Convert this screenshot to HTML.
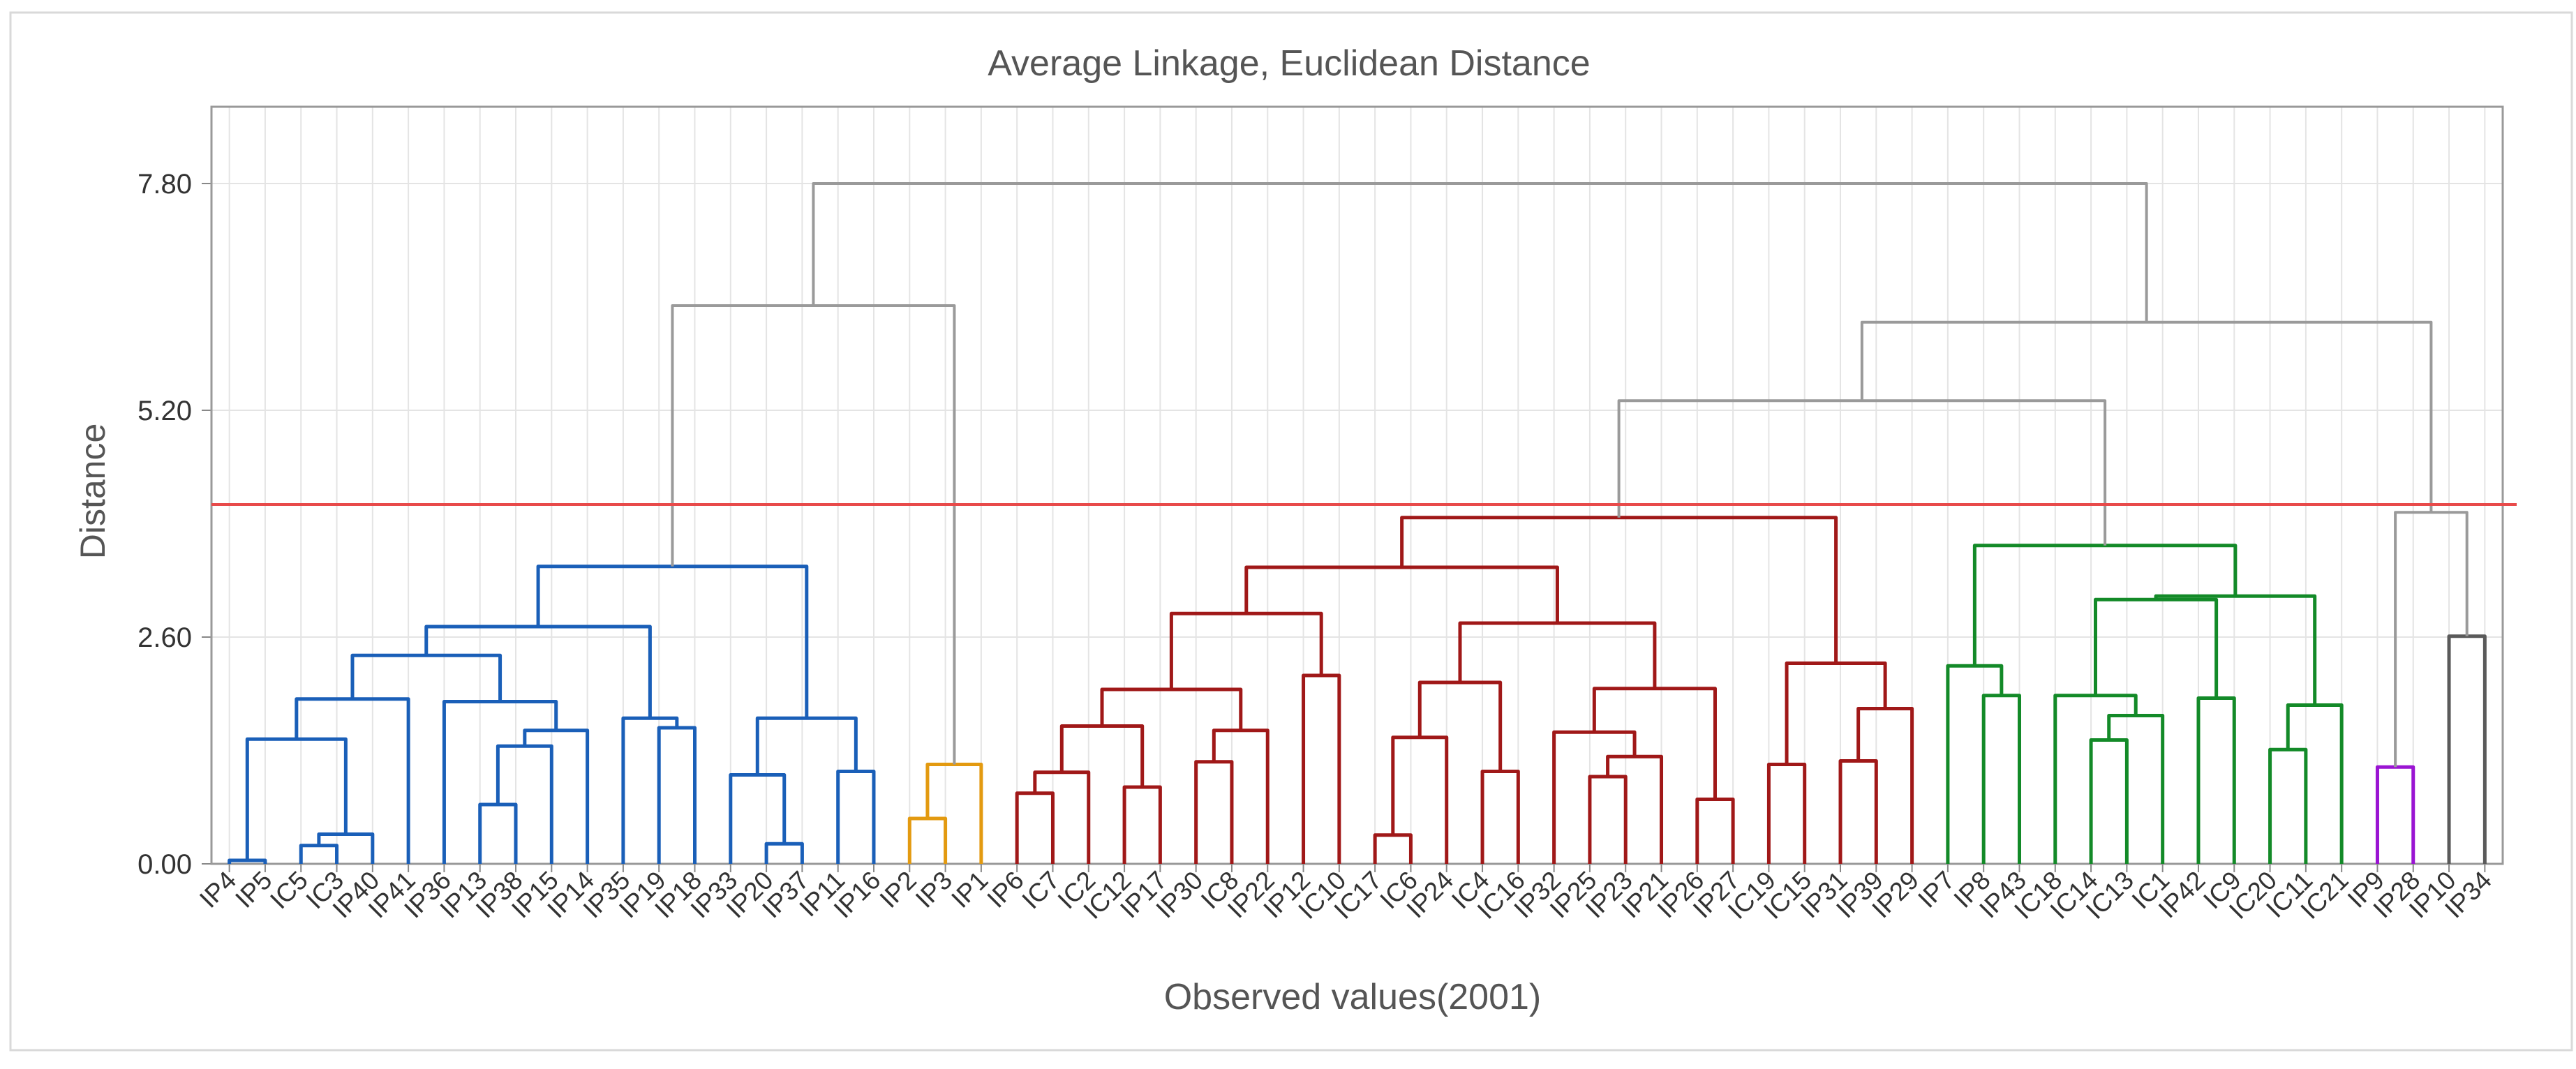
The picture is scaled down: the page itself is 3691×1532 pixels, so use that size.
<!DOCTYPE html>
<html><head><meta charset="utf-8"><style>
html,body{margin:0;padding:0;background:#fff;}
svg{display:block;font-family:"Liberation Sans",sans-serif;}
</style></head><body>
<svg id="chart" width="3691" height="1532" viewBox="0 0 3691 1532">
<rect x="15" y="18" width="3670" height="1487" fill="#fff" stroke="#d9d9d9" stroke-width="3"/>
<text x="1847" y="108" text-anchor="middle" font-size="52" fill="#555">Average Linkage, Euclidean Distance</text>
<text x="1938" y="1446" text-anchor="middle" font-size="52" fill="#555">Observed values(2001)</text>
<text transform="translate(150,704) rotate(-90)" text-anchor="middle" font-size="50" fill="#555">Distance</text>
<g id="grid"></g>
<g id="axes"></g>
<g id="links"></g>
<g id="labels"></g>
</svg>
<script>
const leaves = ["IP4","IP5","IC5","IC3","IP40","IP41","IP36","IP13","IP38","IP15","IP14","IP35","IP19","IP18","IP33","IP20","IP37","IP11","IP16","IP2","IP3","IP1","IP6","IC7","IC2","IC12","IP17","IP30","IC8","IP22","IP12","IC10","IC17","IC6","IP24","IC4","IC16","IP32","IP25","IP23","IP21","IP26","IP27","IC19","IC15","IP31","IP39","IP29","IP7","IP8","IP43","IC18","IC14","IC13","IC1","IP42","IC9","IC20","IC11","IC21","IP9","IP28","IP10","IP34"];
const mergeLeft  = [0,2,65,64,67,7,69,70,6,68,12,11,73,15,14,17,78,76,19,82,81,22,85,25,86,27,89,88,30,91,32,94,35,95,38,98,37,41,100,97,93,43,45,106,105,104,49,48,52,112,51,55,114,57,117,116,111,109,60,62,122,121,84];
const mergeRight = [1,3,4,66,5,8,9,10,71,72,13,74,75,16,77,18,79,80,20,21,83,23,24,26,87,28,29,90,31,92,33,34,36,96,39,40,99,42,101,102,103,44,46,47,107,108,50,110,53,54,113,56,115,58,59,118,119,120,61,63,123,124,125];
const mergeHeight = [0.04,0.21,0.34,1.43,1.89,0.68,1.35,1.53,1.86,2.39,1.56,1.67,2.72,0.23,1.02,1.06,1.67,3.41,0.52,1.14,6.40,0.81,1.05,0.88,1.58,1.17,1.53,2.00,2.16,2.87,0.33,1.45,1.06,2.08,1.00,1.23,1.51,0.74,2.01,2.76,3.40,1.14,1.18,1.78,2.30,3.97,1.93,2.27,1.42,1.70,1.93,1.90,3.03,1.31,1.82,3.07,3.65,5.31,1.11,2.61,4.03,6.21,7.80];
const mergeCluster = ["b","b","b","b","b","b","b","b","b","b","b","b","b","b","b","b","b","b","o","o","g","r","r","r","r","r","r","r","r","r","r","r","r","r","r","r","r","r","r","r","r","r","r","r","r","r","n","n","n","n","n","n","n","n","n","n","n","g","p","k","g","g","g"];
const yTicks = [0, 2.6, 5.2, 7.8];
const yTickLabels = ["0.00","2.60","5.20","7.80"];
const cutHeight = 4.12;
const yMax = 8.68;

const colors = {b:"#1a5fb8",o:"#e39a10",r:"#a01818",n:"#138a28",p:"#9a14d2",k:"#5a5a5a",g:"#9a9a9a"};
const PL=303, PR=3586, PT=153, PB=1238;
const slot=(PR-PL)/leaves.length;
const xLeaf=i=>PL+(i+0.5)*slot;
const yS=v=>PB-(v/yMax)*(PB-PT);
const NS="http://www.w3.org/2000/svg";
function mk(tag,attrs,parent){const e=document.createElementNS(NS,tag);for(const k in attrs)e.setAttribute(k,attrs[k]);parent.appendChild(e);return e;}
const grid=document.getElementById('grid'),axes=document.getElementById('axes'),links=document.getElementById('links'),labels=document.getElementById('labels');

leaves.forEach((n,i)=>{
  const l=mk('line',{x1:xLeaf(i),x2:xLeaf(i),y1:PT,y2:PB,stroke:"#e4e4e4","stroke-width":2},grid);
  
  
});
yTicks.forEach((v,i)=>{
  const l=mk('line',{x1:PL,x2:PR,y1:yS(v),y2:yS(v),stroke:"#e4e4e4","stroke-width":2},grid);
  
  
  const t=mk('line',{x1:PL-14,x2:PL,y1:yS(v),y2:yS(v),stroke:"#888","stroke-width":2},axes);
  
  
  const tx=mk('text',{x:PL-28,y:yS(v)+14,"text-anchor":"end","font-size":40,fill:"#333"},axes);
  tx.textContent=yTickLabels[i];
  
  
});
const frame=mk('rect',{x:PL,y:PT,width:PR-PL,height:PB-PT,fill:"none",stroke:"#999","stroke-width":3},axes);



const nx=[],ny=[];
leaves.forEach((n,i)=>{nx[i]=xLeaf(i);ny[i]=0;});
mergeHeight.forEach((h,k)=>{
  const a=mergeLeft[k],b=mergeRight[k],id=leaves.length+k;
  nx[id]=(nx[a]+nx[b])/2;ny[id]=h;
  const c=colors[mergeCluster[k]];
  const p=mk('path',{d:`M${nx[a]},${yS(ny[a])}V${yS(h)}H${nx[b]}V${yS(ny[b])}`,fill:"none",stroke:c,"stroke-width":mergeCluster[k]==="g"?4:5,"stroke-linejoin":"round"},links);
  
  
});
const cut=mk('line',{x1:PL,x2:PR+20,y1:yS(cutHeight),y2:yS(cutHeight),stroke:"#e84a4a","stroke-width":4},links);



leaves.forEach((n,i)=>{
  const x=xLeaf(i);
  const t=mk('line',{x1:x,x2:x,y1:PB,y2:PB+12,stroke:"#888","stroke-width":2},axes);
  
  
  const tx=mk('text',{transform:`translate(${x+12},${PB+26}) rotate(-45)`,"text-anchor":"end","font-size":37,fill:"#333"},labels);
  tx.textContent=n;
  
  
});
</script>
</body></html>
